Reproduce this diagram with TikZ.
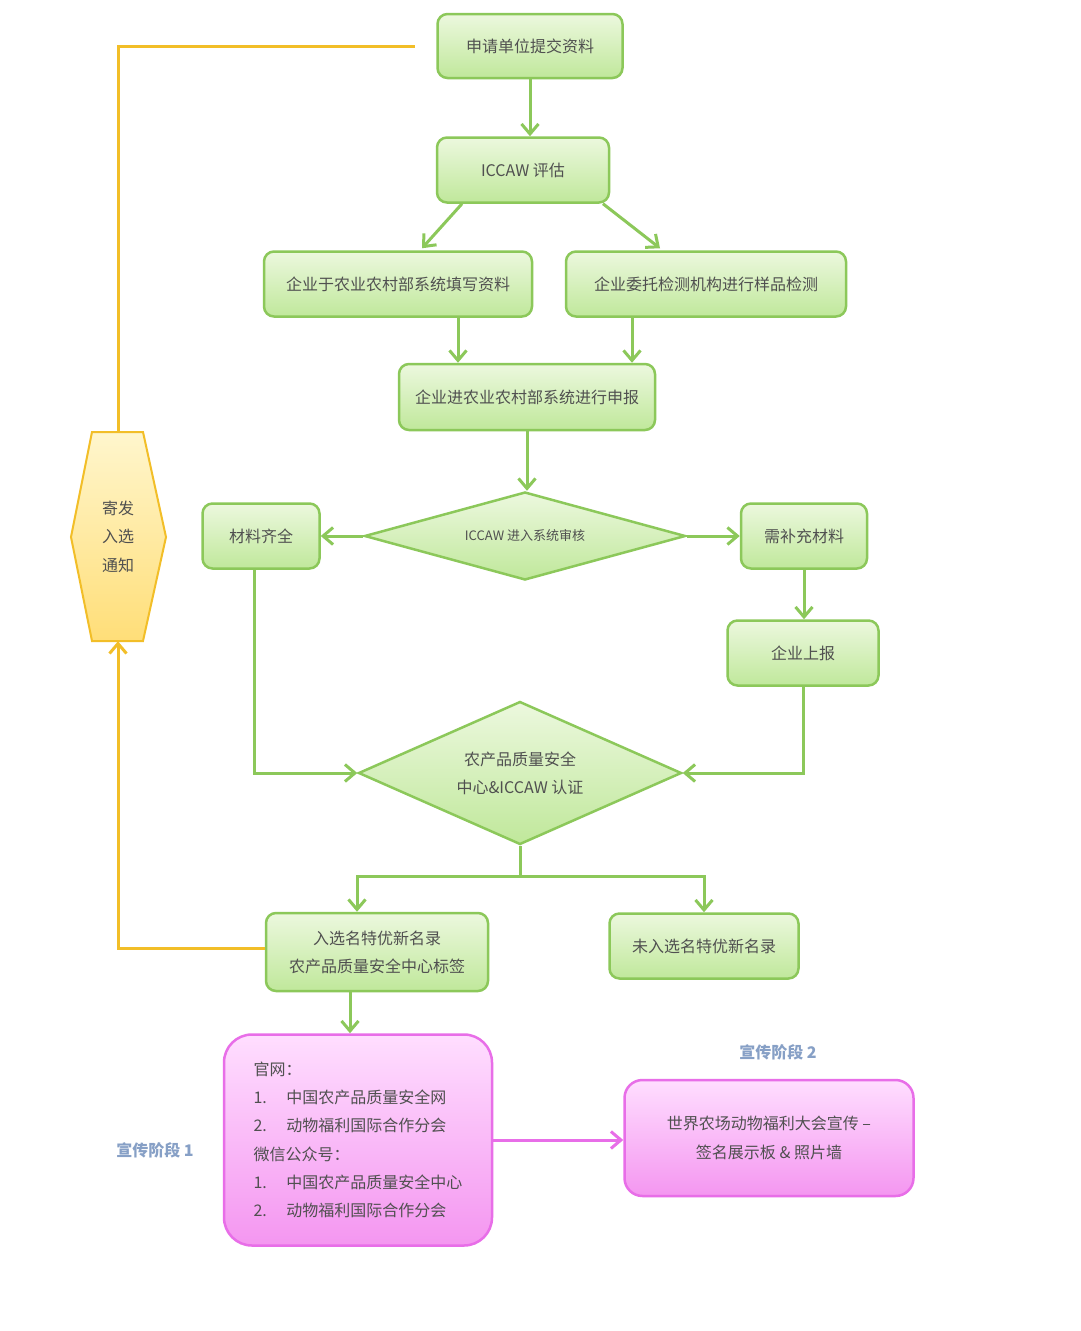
\documentclass[tikz,border=0pt]{standalone}
\usepackage{fontspec}
\setmainfont{Noto Sans CJK SC}
\usetikzlibrary{shapes.geometric,arrows.meta}
\definecolor{gline}{RGB}{140,200,90}
\definecolor{gtop}{RGB}{236,248,222}
\definecolor{gbot}{RGB}{192,232,155}
\definecolor{txt}{RGB}{80,80,80}
\definecolor{ylw}{RGB}{242,190,40}
\definecolor{ytop}{RGB}{255,246,205}
\definecolor{ybot}{RGB}{255,222,120}
\definecolor{pline}{RGB}{232,110,232}
\definecolor{ptop}{RGB}{255,222,255}
\definecolor{pbot}{RGB}{244,150,240}
\definecolor{lbl}{RGB}{135,160,198}
\tikzset{
  gbox/.style={draw=gline, line width=2.5pt, rounded corners=10pt, top color=gtop, bottom color=gbot,
    text=txt, font=\fontsize{16}{28}\selectfont, align=center, inner sep=0pt},
  gdia/.style={diamond, draw=gline, line width=2.5pt, top color=gtop, bottom color=gbot,
    text=txt, align=center, inner sep=0pt},
  pbox/.style={draw=pline, line width=2.5pt, rounded corners=28pt, top color=ptop, bottom color=pbot,
    text=txt, font=\fontsize{16}{28.3}\selectfont, inner sep=0pt},
  garrow/.style={draw=gline, line width=3pt, -{Straight Barb[length=10pt,width=17pt]}},
  gline/.style={draw=gline, line width=3pt},
  yarrow/.style={draw=ylw, line width=3pt, -{Straight Barb[length=10pt,width=17pt]}},
  yline/.style={draw=ylw, line width=3pt},
  parrow/.style={draw=pline, line width=3pt, -{Straight Barb[length=10pt,width=17pt]}},
  stagelbl/.style={text=lbl, font=\bfseries\fontsize{16}{20}\selectfont}
}
\begin{document}
\begin{tikzpicture}[x=1pt,y=-1pt]
\useasboundingbox[fill=white] (0,0) rectangle (1080,1331);

% green boxes
\node[gbox, minimum width=185pt, minimum height=64pt] (b1) at (530,46) {申请单位提交资料};
\node[gbox, minimum width=172pt, minimum height=65pt] (b2) at (523,170) {ICCAW 评估};
\node[gbox, minimum width=268pt, minimum height=65pt] (b3) at (398,284) {企业于农业农村部系统填写资料};
\node[gbox, minimum width=280pt, minimum height=65pt] (b4) at (706,284) {企业委托检测机构进行样品检测};
\node[gbox, minimum width=256pt, minimum height=66pt] (b5) at (527,397) {企业进农业农村部系统进行申报};
\node[gdia, aspect=3.65, minimum width=321pt, minimum height=88pt, font=\fontsize{13}{16}\selectfont] (d1) at (525,536) {ICCAW 进入系统审核};
\node[gbox, minimum width=117pt, minimum height=65pt] (cl) at (261,536) {材料齐全};
\node[gbox, minimum width=126pt, minimum height=65pt] (xb) at (804,536) {需补充材料};
\node[gbox, minimum width=151pt, minimum height=65pt] (qs) at (803,653) {企业上报};
\node[gdia, aspect=2.26, minimum width=323pt, minimum height=143pt, font=\fontsize{16}{28}\selectfont] (d2) at (520,773) {农产品质量安全\\中心\&ICCAW 认证};
\node[gbox, minimum width=222pt, minimum height=78pt] (rx) at (377,952) {入选名特优新名录\\农产品质量安全中心标签};
\node[gbox, minimum width=189pt, minimum height=65pt] (wr) at (704,946) {未入选名特优新名录};

% pink boxes
\node[pbox, minimum width=268pt, minimum height=211pt, align=left] (p1) at (358,1140)
 {官网：\\
  \makebox[33pt][l]{1.}中国农产品质量安全网\\
  \makebox[33pt][l]{2.}动物福利国际合作分会\\
  微信公众号：\\
  \makebox[33pt][l]{1.}中国农产品质量安全中心\\
  \makebox[33pt][l]{2.}动物福利国际合作分会};
\node[pbox, rounded corners=18pt, minimum width=289pt, minimum height=116pt, align=center] (p2) at (769,1138)
 {世界农场动物福利大会宣传 –\\签名展示板 \& 照片墙};

\node[stagelbl] (s2) at (778,1052) {宣传阶段 2};
\node[stagelbl] (s1) at (155,1150) {宣传阶段 1};

% hexagon
\path[draw=ylw, line width=2pt, top color=ytop, bottom color=ybot]
  (92,432) -- (143,432) -- (166,537) -- (143,641) -- (92,641) -- (71,537) -- cycle;
\node[minimum width=95pt, minimum height=209pt, inner sep=0pt, text=txt, align=center,
  font=\fontsize{16}{28.5}\selectfont] (hex) at (118,536.5) {寄发\\入选\\通知};

% green connectors
\draw[garrow] (b1.south) -- (b1.south |- b2.north);
\draw[garrow] ([xshift=-61pt]b2.south) -- ([xshift=24pt,yshift=2pt]b3.north);
\draw[garrow] ([xshift=80pt]b2.south) -- ([xshift=-46pt,yshift=2pt]b4.north);
\draw[garrow] ([xshift=60pt]b3.south) -- ([xshift=60pt]b3.south |- b5.north);
\draw[garrow] ([xshift=-74pt]b4.south) -- ([xshift=-74pt]b4.south |- b5.north);
\draw[garrow] (b5.south) -- (b5.south |- d1.north);
\draw[garrow] (d1.west) -- (cl.east);
\draw[garrow] (d1.east) -- (xb.west);
\draw[garrow] (xb.south) -- (xb.south |- qs.north);
\draw[garrow] ([xshift=-7pt]cl.south) |- (d2.west);
\draw[garrow] (qs.south) |- (d2.east);
\draw[gline] (d2.south) -- (d2.south |- 0,876) coordinate (br);
\draw[garrow] (br) -| ([xshift=-20pt]rx.north);
\draw[garrow] (br) -| (wr.north);
\draw[garrow] ([xshift=-27pt]rx.south) -- ([xshift=-27pt]rx.south |- p1.north);

% pink connector
\draw[parrow] (p1.east) -- (p1.east -| p2.west);

% yellow connectors
\draw[yarrow] ([yshift=4pt]rx.west) -| (hex.south);
\coordinate (yend) at (415,46);
\draw[yline] (hex.north) |- (yend);
\end{tikzpicture}
\end{document}
